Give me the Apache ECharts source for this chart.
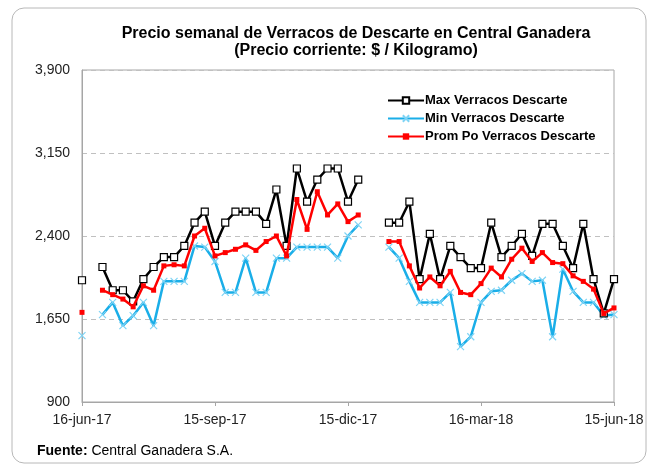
<!DOCTYPE html>
<html>
<head>
<meta charset="utf-8">
<script src="https://cdn.jsdelivr.net/npm/echarts@6/dist/echarts.min.js"></script>
<style>
  html, body { margin: 0; padding: 0; background: #fff; }
  #chart { width: 652px; height: 466px; }
</style>
</head>
<body>
<div id="chart"></div>
<script>
  // semanas (viernes) 16-jun-17 .. 15-jun-18
  var semanas = [
    '16-jun-17', '23-jun-17', '30-jun-17', '7-jul-17', '14-jul-17', '21-jul-17', '28-jul-17',
    '4-ago-17', '11-ago-17', '18-ago-17', '25-ago-17', '1-sep-17', '8-sep-17', '15-sep-17',
    '22-sep-17', '29-sep-17', '6-oct-17', '13-oct-17', '20-oct-17', '27-oct-17', '3-nov-17',
    '10-nov-17', '17-nov-17', '24-nov-17', '1-dic-17', '8-dic-17', '15-dic-17', '22-dic-17',
    '29-dic-17', '5-ene-18', '12-ene-18', '19-ene-18', '26-ene-18', '2-feb-18', '9-feb-18',
    '16-feb-18', '23-feb-18', '2-mar-18', '9-mar-18', '16-mar-18', '23-mar-18', '30-mar-18',
    '6-abr-18', '13-abr-18', '20-abr-18', '27-abr-18', '4-may-18', '11-may-18', '18-may-18',
    '25-may-18', '1-jun-18', '8-jun-18', '15-jun-18'
  ];

  var maxVerracos = [
    2000, null, 2120, 1910, 1910, 1810, 2010, 2120, 2210, 2210, 2310, 2520, 2620, 2310,
    2520, 2620, 2620, 2620, 2510, 2820, 2310, 3010, 2710, 2910, 3010, 3010, 2710, 2910,
    null, null, 2520, 2520, 2710, 2010, 2420, 2010, 2310, 2210, 2110, 2110, 2520, 2210,
    2310, 2420, 2220, 2510, 2510, 2310, 2110, 2510, 2010, 1700, 2010
  ];

  var minVerracos = [
    1500, null, 1690, 1800, 1590, 1680, 1800, 1590, 1990, 1990, 1990, 2310, 2300, 2170,
    1890, 1890, 2200, 1890, 1890, 2200, 2200, 2300, 2300, 2300, 2300, 2200, 2400, 2500,
    null, null, 2300, 2200, 1990, 1800, 1800, 1800, 1890, 1400, 1490, 1800, 1900, 1910,
    2000, 2060, 1990, 2000, 1490, 2100, 1900, 1800, 1800, 1680, 1690
  ];

  var promVerracos = [
    1710, null, 1910, 1870, 1830, 1760, 1950, 1910, 2130, 2140, 2130, 2400, 2470, 2220,
    2250, 2280, 2320, 2270, 2350, 2400, 2220, 2730, 2460, 2800, 2590, 2690, 2530, 2590,
    null, null, 2350, 2350, 2130, 1930, 2030, 1950, 2080, 1890, 1870, 1970, 2110, 2030,
    2190, 2290, 2170, 2250, 2160, 2150, 2040, 1990, 1920, 1700, 1750
  ];

  var yTicks = { min: 900, max: 3900, interval: 750 };

  var cruz = 'path://M0,0 L10,10 M10,0 L0,10';

  var myChart = echarts.init(document.getElementById('chart'));
  var fuente = '"Liberation Sans", Arial, sans-serif';

  var option = {
    animation: false,
    backgroundColor: '#fff',
    textStyle: { fontFamily: fuente },
    title: {
      text: 'Precio semanal de Verracos de Descarte en Central Ganadera\n(Precio corriente: $ / Kilogramo)',
      left: 351,
      top: 20,
      textAlign: 'center',
      textStyle: {
        fontFamily: fuente,
        fontSize: 16,
        fontWeight: 'bold',
        color: '#000',
        lineHeight: 17
      }
    },
    graphic: [
      {
        type: 'rect',
        shape: { x: 12, y: 8, width: 634, height: 455, r: 12 },
        style: { fill: 'none', stroke: '#b8b8b8', lineWidth: 1 },
        z: -1
      },
      {
        type: 'text',
        left: 37,
        top: 444,
        style: {
          text: '{b|Fuente:} Central Ganadera S.A.',
          rich: {
            b: { fontWeight: 'bold', fontSize: 14, fontFamily: fuente, fill: '#000' }
          },
          fontSize: 14,
          fontFamily: fuente,
          fill: '#000'
        }
      }
    ],
    legend: {
      orient: 'vertical',
      left: 382,
      top: 89,
      itemWidth: 36,
      itemHeight: 8,
      itemGap: 5,
      textStyle: {
        fontSize: 13,
        fontWeight: 'bold',
        color: '#000',
        padding: [0, 0, 0, -4]
      },
      data: ['Max Verracos Descarte', 'Min Verracos Descarte', 'Prom Po Verracos Descarte']
    },
    grid: { left: 82, right: 38, top: 70, bottom: 64, show: true, borderColor: '#a6a6a6', borderWidth: 1 },
    xAxis: {
      type: 'category',
      boundaryGap: false,
      data: semanas,
      axisLine: { lineStyle: { color: '#a6a6a6', width: 1 } },
      axisTick: { interval: 12, length: 4, lineStyle: { color: '#a6a6a6' } },
      axisLabel: {
        interval: 12,
        color: '#222',
        fontSize: 14,
        fontFamily: fuente,
        margin: 11
      }
    },
    yAxis: {
      type: 'value',
      min: yTicks.min,
      max: yTicks.max,
      interval: yTicks.interval,
      axisLine: { show: true, lineStyle: { color: '#a6a6a6' } },
      axisTick: { show: false },
      axisLabel: {
        color: '#222',
        fontSize: 14,
        fontFamily: fuente,
        margin: 12,
        formatter: function (v) { return v.toLocaleString('en-US'); }
      },
      splitLine: { lineStyle: { color: '#c0c0c0', type: [5, 4] } }
    },
    series: [
      {
        name: 'Max Verracos Descarte',
        type: 'line',
        data: maxVerracos,
        connectNulls: false,
        symbol: 'rect',
        symbolSize: 7,
        showAllSymbol: true,
        lineStyle: { color: '#000', width: 2.5 },
        itemStyle: { color: '#fff', borderColor: '#000', borderWidth: 1.2 },
        z: 3
      },
      {
        name: 'Min Verracos Descarte',
        type: 'line',
        data: minVerracos,
        connectNulls: false,
        symbol: cruz,
        symbolSize: 7,
        showAllSymbol: true,
        lineStyle: { color: '#1aaee8', width: 2.5 },
        itemStyle: { color: '#1aaee8', borderColor: '#7fd4f5', borderWidth: 1.2 },
        z: 2
      },
      {
        name: 'Prom Po Verracos Descarte',
        type: 'line',
        data: promVerracos,
        connectNulls: false,
        symbol: 'rect',
        symbolSize: 5,
        showAllSymbol: true,
        lineStyle: { color: '#ff0000', width: 2.5 },
        itemStyle: { color: '#ff0000', borderWidth: 0 },
        z: 4
      }
    ]
  };

  myChart.setOption(option);
</script>
</body>
</html>
